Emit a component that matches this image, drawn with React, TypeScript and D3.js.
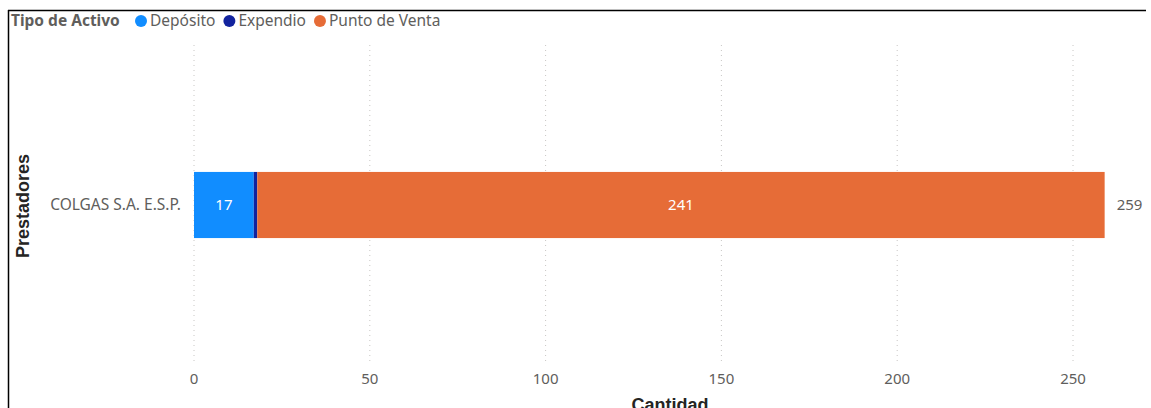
import React, { useEffect, useRef } from "react";
import * as d3 from "d3";

const CATEGORIES = ["COLGAS S.A. E.S.P."];
const SERIES = ["Depósito", "Expendio", "Punto de Venta"];
const COLORS = ["#118DFF", "#12239E", "#E66C37"];
const VALUES = [[17, 1, 241]];
const X_TICKS = [0, 50, 100, 150, 200, 250];

const WIDTH = 1151;
const HEIGHT = 408;
const FONT = "'Segoe UI', 'Noto Sans', sans-serif";
const TITLE_FONT = "'Liberation Sans', Arial, sans-serif";

export default function App() {
  const ref = useRef<SVGSVGElement>(null);

  useEffect(() => {
    const svg = d3.select(ref.current);
    svg.selectAll("*").remove();

    const x = d3.scaleLinear().domain([0, 250]).range([194, 1073]);
    const y = d3
      .scaleBand()
      .domain(CATEGORIES)
      .range([45, 365])
      .paddingInner(0)
      .paddingOuter(1.92);

    // frame
    svg.append("line").attr("x1", 8.5).attr("x2", 8.5).attr("y1", 10).attr("y2", HEIGHT).attr("stroke", "#000").attr("stroke-width", 1.5);
    svg.append("line").attr("x1", 8).attr("x2", 1146).attr("y1", 10.5).attr("y2", 10.5).attr("stroke", "#000").attr("stroke-width", 1.5);

    // legend
    const legend = svg.append("g").attr("font-family", FONT).attr("font-size", 15.5);
    legend
      .append("text")
      .attr("x", 11)
      .attr("y", 26)
      .attr("font-weight", "bold")
      .attr("font-size", 15.5)
      .attr("fill", "#605E5C")
      .text("Tipo de Activo");
    let lx = 141;
    SERIES.forEach((s, i) => {
      legend.append("circle").attr("cx", lx).attr("cy", 21).attr("r", 6).attr("fill", COLORS[i]);
      const t = legend
        .append("text")
        .attr("x", lx + 9)
        .attr("y", 26)
        .attr("fill", "#605E5C")
        .text(s);
      const w = (t.node() as SVGTextElement).getComputedTextLength();
      lx += 9 + w + 14;
    });

    // gridlines
    svg
      .append("g")
      .selectAll("line")
      .data(X_TICKS)
      .join("line")
      .attr("x1", (d) => x(d))
      .attr("x2", (d) => x(d))
      .attr("y1", 45)
      .attr("y2", 365)
      .attr("stroke", "#C8C6C4")
      .attr("stroke-width", 1)
      .attr("stroke-dasharray", "1,4");

    // tick labels
    svg
      .append("g")
      .selectAll("text")
      .data(X_TICKS)
      .join("text")
      .attr("x", (d) => x(d))
      .attr("y", 384)
      .attr("text-anchor", "middle")
      .attr("font-family", FONT)
      .attr("font-size", 15)
      .attr("fill", "#605E5C")
      .text((d) => d);

    // category labels
    svg
      .append("g")
      .selectAll("text")
      .data(CATEGORIES)
      .join("text")
      .attr("x", 181)
      .attr("y", (d) => (y(d) as number) + y.bandwidth() / 2 + 5)
      .attr("text-anchor", "end")
      .attr("font-family", FONT)
      .attr("font-size", 15.5)
      .attr("fill", "#605E5C")
      .text((d) => d);

    // bars
    const stacked = CATEGORIES.map((c, ci) => {
      let acc = 0;
      return SERIES.map((s, si) => {
        const v = VALUES[ci][si];
        const seg = { c, si, v, x0: acc, x1: acc + v };
        acc += v;
        return seg;
      });
    }).flat();

    svg
      .append("g")
      .selectAll("rect")
      .data(stacked)
      .join("rect")
      .attr("x", (d) => x(d.x0))
      .attr("width", (d) => x(d.x1) - x(d.x0))
      .attr("y", (d) => y(d.c) as number)
      .attr("height", y.bandwidth())
      .attr("fill", (d) => COLORS[d.si]);

    svg
      .append("g")
      .selectAll("text")
      .data(stacked.filter((d) => x(d.x1) - x(d.x0) > 30))
      .join("text")
      .attr("x", (d) => (x(d.x0) + x(d.x1)) / 2)
      .attr("y", (d) => (y(d.c) as number) + y.bandwidth() / 2 + 5)
      .attr("text-anchor", "middle")
      .attr("font-family", FONT)
      .attr("font-size", 15)
      .attr("fill", "#FFFFFF")
      .text((d) => d.v);

    // totals
    svg
      .append("g")
      .selectAll("text")
      .data(CATEGORIES)
      .join("text")
      .attr("x", (d, i) => x(d3.sum(VALUES[i])) + 12)
      .attr("y", (d) => (y(d) as number) + y.bandwidth() / 2 + 5)
      .attr("font-family", FONT)
      .attr("font-size", 15)
      .attr("fill", "#605E5C")
      .text((d, i) => d3.sum(VALUES[i]));

    // axis titles
    svg
      .append("text")
      .attr("x", 670)
      .attr("y", 411)
      .attr("text-anchor", "middle")
      .attr("font-family", TITLE_FONT)
      .attr("font-weight", "bold")
      .attr("font-size", 18)
      .attr("fill", "#252423")
      .text("Cantidad");
    svg
      .append("text")
      .attr("transform", "translate(29,206) rotate(-90)")
      .attr("text-anchor", "middle")
      .attr("font-family", TITLE_FONT)
      .attr("font-weight", "bold")
      .attr("font-size", 18)
      .attr("fill", "#252423")
      .text("Prestadores");
  }, []);

  return (
    <svg
      ref={ref}
      width={WIDTH}
      height={HEIGHT}
      style={{ position: "absolute", left: 0, top: 0, background: "#fff" }}
    />
  );
}
